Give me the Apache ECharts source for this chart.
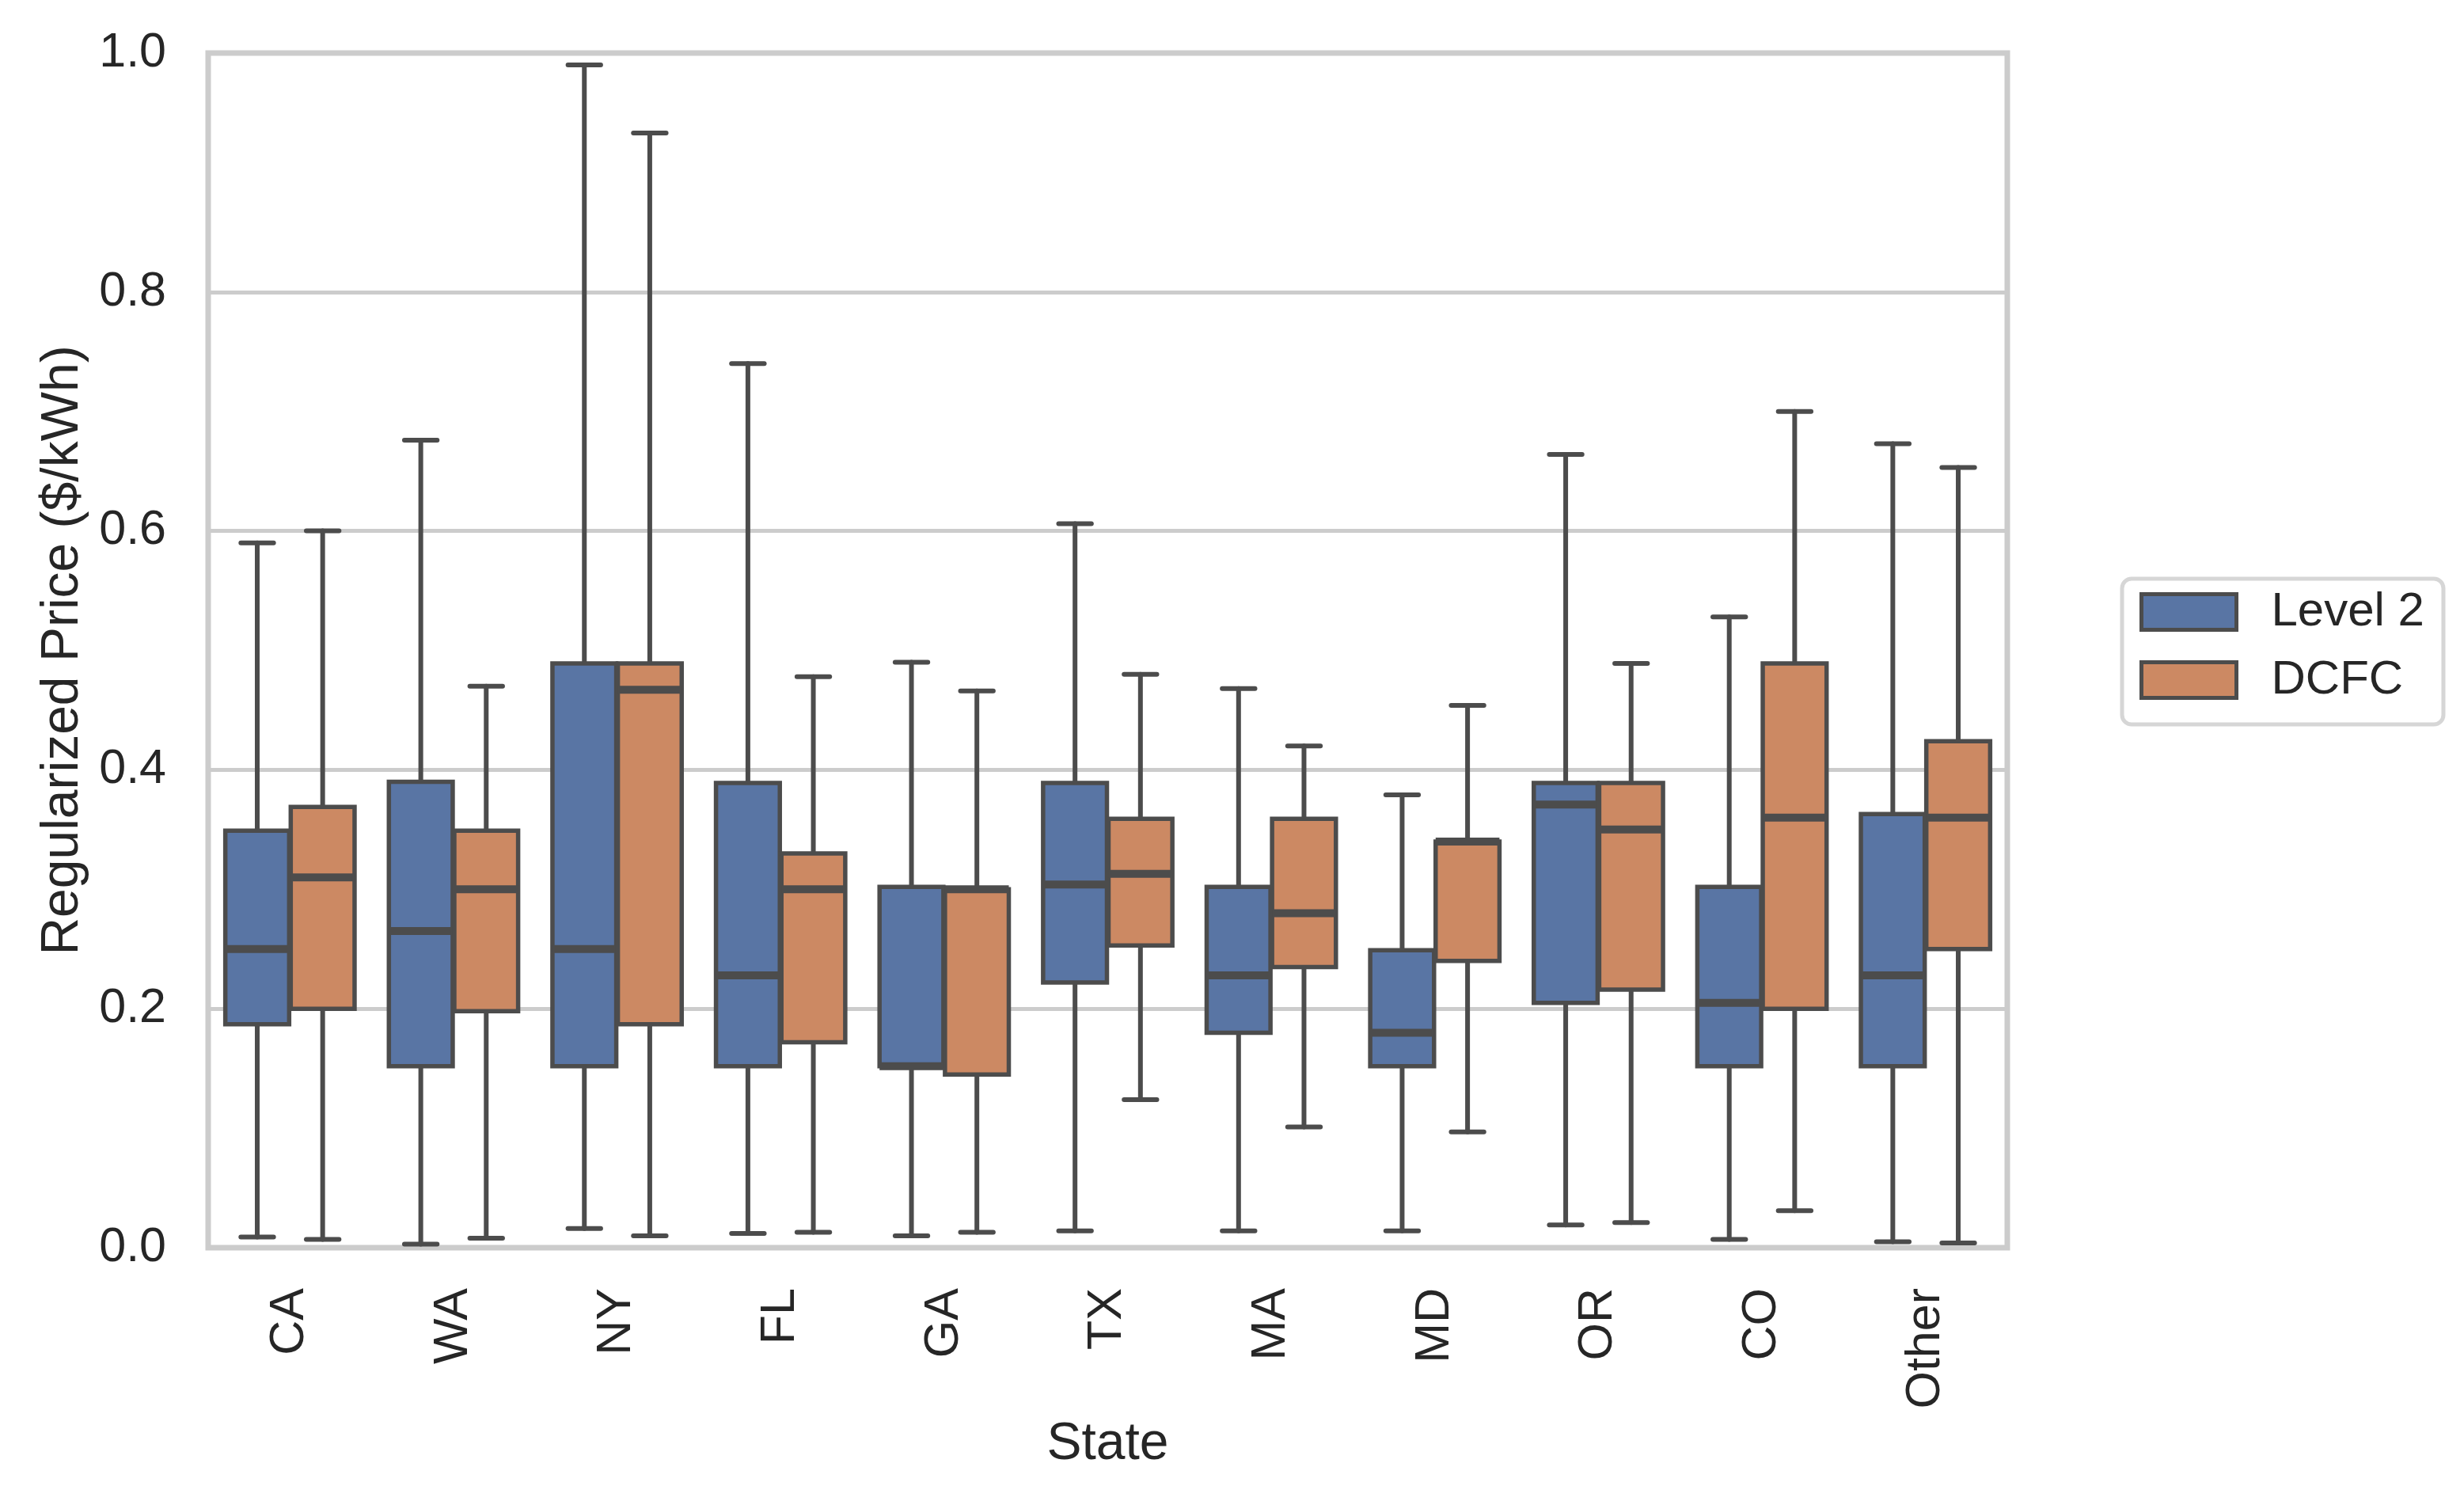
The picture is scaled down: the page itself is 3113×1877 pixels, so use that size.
<!DOCTYPE html>
<html>
<head>
<meta charset="utf-8">
<script src="https://cdn.jsdelivr.net/npm/echarts@6/dist/echarts.min.js"></script>
<style>
html,body{margin:0;padding:0;background:#fff;}
#chart{width:3113px;height:1877px;}
</style>
</head>
<body>
<div id="chart"></div>
<script>
// Categories
const states = ['CA', 'WA', 'NY', 'FL', 'GA', 'TX', 'MA', 'MD', 'OR', 'CO', 'Other'];
// Box statistics per state: [lower whisker, Q1, median, Q3, upper whisker]
const level2Box = [
  [0.009, 0.187, 0.250, 0.349, 0.590],
  [0.003, 0.152, 0.265, 0.390, 0.676],
  [0.016, 0.152, 0.250, 0.489, 0.990],
  [0.012, 0.152, 0.228, 0.389, 0.740],
  [0.010, 0.152, 0.152, 0.302, 0.490],
  [0.014, 0.222, 0.304, 0.389, 0.606],
  [0.014, 0.180, 0.228, 0.302, 0.468],
  [0.014, 0.152, 0.180, 0.249, 0.379],
  [0.019, 0.205, 0.371, 0.389, 0.664],
  [0.007, 0.152, 0.205, 0.302, 0.528],
  [0.005, 0.152, 0.228, 0.363, 0.673]
];
const dcfcBox = [
  [0.007, 0.200, 0.310, 0.369, 0.600],
  [0.008, 0.198, 0.300, 0.349, 0.470],
  [0.010, 0.187, 0.467, 0.489, 0.933],
  [0.013, 0.172, 0.300, 0.330, 0.478],
  [0.013, 0.145, 0.300, 0.300, 0.466],
  [0.124, 0.253, 0.313, 0.359, 0.480],
  [0.101, 0.235, 0.280, 0.359, 0.420],
  [0.097, 0.240, 0.340, 0.340, 0.454],
  [0.021, 0.216, 0.350, 0.389, 0.489],
  [0.031, 0.200, 0.360, 0.489, 0.700],
  [0.004, 0.250, 0.360, 0.424, 0.653]
];
const yTicks = [0, 0.2, 0.4, 0.6, 0.8, 1.0];
const seriesNames = ['Level 2', 'DCFC'];

const BLUE = '#5975a4';
const ORANGE = '#cc8963';
const EDGE = '#4c4c4c';
const TEXT = '#262626';
const FONT = '"Liberation Sans", Arial, Helvetica, sans-serif';

function toData(box) {
  return box.map((b, i) => [i].concat(b));
}

function makeRender(side, color) {
  return function (params, api) {
    const i = api.value(0);
    const band = api.size([1, 0])[0];
    const c = api.coord([i, 0]);
    const cx = c[0] + side * 0.2 * band;
    const yMin = api.coord([i, api.value(1)])[1];
    const yQ1 = api.coord([i, api.value(2)])[1];
    const yMed = api.coord([i, api.value(3)])[1];
    const yQ3 = api.coord([i, api.value(4)])[1];
    const yMax = api.coord([i, api.value(5)])[1];
    const bw = 0.4 * band - 2;
    const cap = 0.2 * band;
    const ls = { stroke: EDGE, lineWidth: 6, lineCap: 'round' };
    return {
      type: 'group',
      children: [
        { type: 'line', shape: { x1: cx, y1: yQ1, x2: cx, y2: yMin }, style: ls },
        { type: 'line', shape: { x1: cx, y1: yQ3, x2: cx, y2: yMax }, style: ls },
        { type: 'line', shape: { x1: cx - cap / 2, y1: yMin, x2: cx + cap / 2, y2: yMin }, style: ls },
        { type: 'line', shape: { x1: cx - cap / 2, y1: yMax, x2: cx + cap / 2, y2: yMax }, style: ls },
        { type: 'rect', shape: { x: cx - bw / 2, y: yQ3, width: bw, height: yQ1 - yQ3 },
          style: { fill: color, stroke: EDGE, lineWidth: 5.5 } },
        { type: 'line', shape: { x1: cx - bw / 2, y1: yMed, x2: cx + bw / 2, y2: yMed },
          style: { stroke: EDGE, lineWidth: 10, lineCap: 'butt' } }
      ]
    };
  };
}

const chart = echarts.init(document.getElementById('chart'), null, { renderer: 'canvas' });
chart.setOption({
  animation: false,
  backgroundColor: '#ffffff',
  textStyle: { fontFamily: FONT },
  grid: {
    left: 263, right: 577, top: 67, bottom: 301,
    show: true, borderColor: '#cccccc', borderWidth: 7, backgroundColor: 'transparent'
  },
  legend: {
    orient: 'vertical',
    left: 2681, top: 731,
    icon: 'rect',
    itemWidth: 120, itemHeight: 45, itemGap: 26,
    padding: [12, 24, 26, 22],
    backgroundColor: '#ffffff',
    borderColor: '#d6d6d6', borderWidth: 5, borderRadius: 12,
    textStyle: { fontSize: 60, color: TEXT, fontFamily: FONT, padding: [0, 0, 0, 39] },
    data: [
      { name: seriesNames[0], itemStyle: { color: BLUE, borderColor: EDGE, borderWidth: 5 } },
      { name: seriesNames[1], itemStyle: { color: ORANGE, borderColor: EDGE, borderWidth: 5 } }
    ]
  },
  xAxis: {
    type: 'category',
    data: states,
    boundaryGap: true,
    name: 'State',
    nameLocation: 'middle',
    nameGap: 216,
    nameTextStyle: { fontSize: 66, color: TEXT, fontFamily: FONT },
    axisLine: { show: false },
    axisTick: { show: false },
    splitLine: { show: false },
    axisLabel: { rotate: 90, margin: 51, fontSize: 61, color: TEXT, fontFamily: FONT }
  },
  yAxis: {
    type: 'value',
    min: yTicks[0], max: yTicks[yTicks.length - 1], interval: 0.2,
    name: 'Regularized Price ($/kWh)',
    nameLocation: 'middle',
    nameGap: 150,
    nameTextStyle: { fontSize: 66, color: TEXT, fontFamily: FONT },
    axisLine: { show: false },
    axisTick: { show: false },
    splitLine: { show: true, lineStyle: { color: '#cccccc', width: 5 } },
    axisLabel: { margin: 53, fontSize: 61, color: TEXT, fontFamily: FONT,
      formatter: v => v.toFixed(1) }
  },
  series: [
    {
      name: seriesNames[0], type: 'custom', renderItem: makeRender(-1, BLUE),
      itemStyle: { color: BLUE }, encode: { x: 0, y: [1, 2, 3, 4, 5] },
      data: toData(level2Box), clip: false
    },
    {
      name: seriesNames[1], type: 'custom', renderItem: makeRender(1, ORANGE),
      itemStyle: { color: ORANGE }, encode: { x: 0, y: [1, 2, 3, 4, 5] },
      data: toData(dcfcBox), clip: false
    }
  ]
});
</script>
</body>
</html>
